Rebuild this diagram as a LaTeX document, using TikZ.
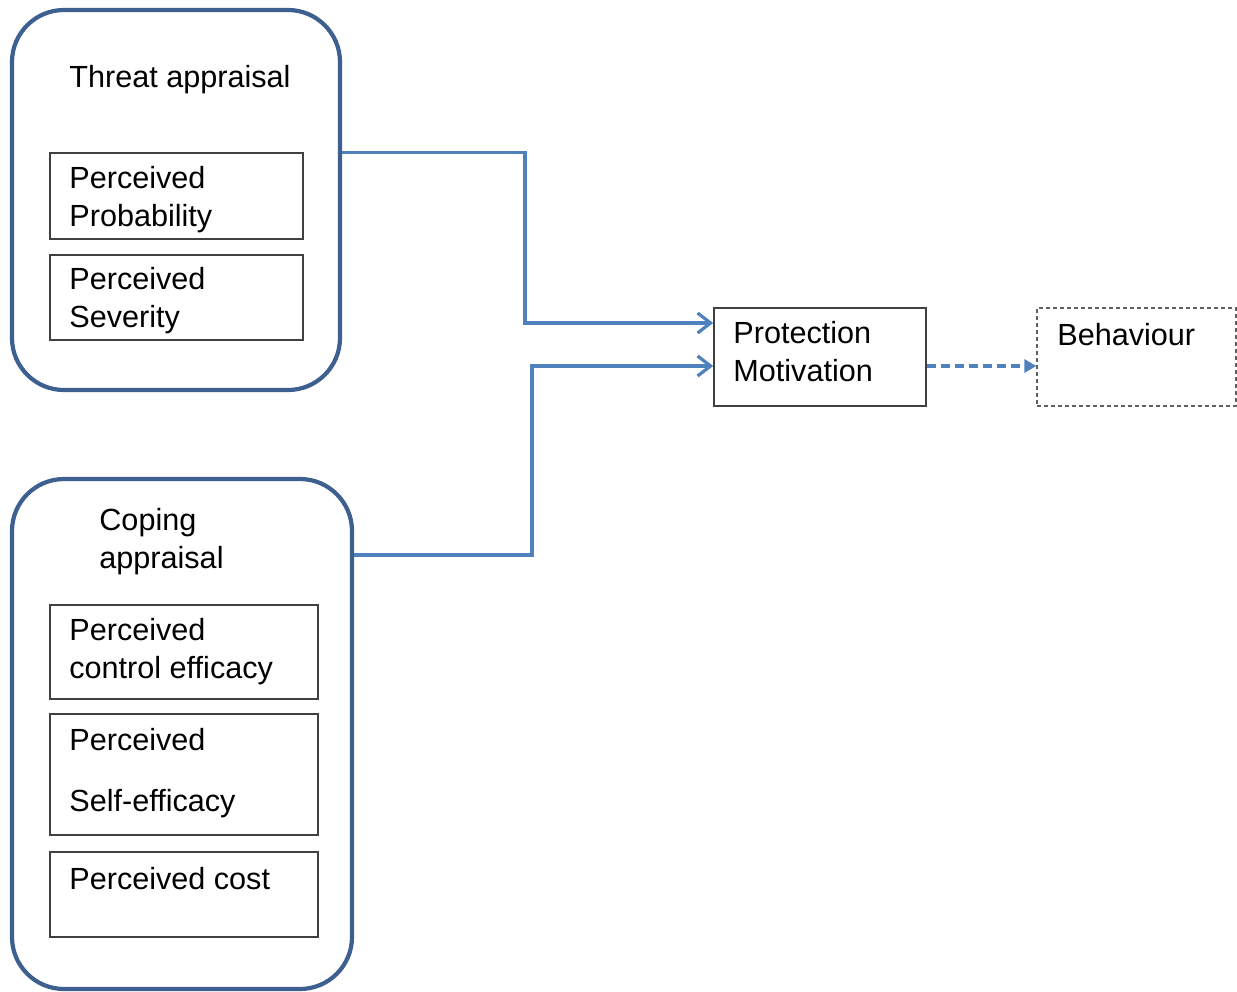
\documentclass[tikz,border=0pt]{standalone}
\usepackage{fontspec}
\setmainfont{Liberation Sans}
\usetikzlibrary{arrows.meta,fit,calc}
\definecolor{outerblue}{HTML}{3E6091}
\definecolor{connblue}{HTML}{4F81BD}
\definecolor{boxgray}{HTML}{404040}
\definecolor{dashgray}{HTML}{606060}
\begin{document}
\begin{tikzpicture}[x=0.5pt,y=-0.5pt,
  outerbox/.style={draw=outerblue,line width=2.1pt,rounded corners=26pt,inner sep=0pt},
  innerbox/.style={draw=boxgray,line width=0.8pt,inner sep=0pt},
  dashbox/.style={draw=dashgray,line width=0.6pt,dash pattern=on 2pt off 1.5pt,inner sep=0pt},
  txt/.style={anchor=north west,inner sep=0pt,align=left,font=\fontsize{15.3}{19}\selectfont},
  conn/.style={draw=connblue,line width=1.6pt,-{Straight Barb[length=6.5pt,width=10pt,line width=1.6pt]}},
  dconn/.style={draw=connblue,line width=1.8pt,dash pattern=on 4.5pt off 2.5pt,-{Triangle[length=6pt,width=6.5pt]}}
]
\useasboundingbox (0,0) rectangle (1237,991);
% threat appraisal group
\node[outerbox,fit={(12,10)(340,390)}] (threat) {};
\node[txt] (tthreat) at (69,65) {Threat appraisal};
\node[innerbox,fit={(50,153)(303,239)}] (prob) {};
\node[txt] (tprob) at (69,166) {Perceived\\Probability};
\node[innerbox,fit={(50,255)(303,340)}] (sev) {};
\node[txt] (tsev) at (69,267) {Perceived\\Severity};
% coping appraisal group
\node[outerbox,fit={(12,479)(352,989)}] (coping) {};
\node[txt] (tcoping) at (99,508) {Coping\\appraisal};
\node[innerbox,fit={(50,605)(318,699)}] (ctrl) {};
\node[txt] (tctrl) at (69,618) {Perceived\\control efficacy};
\node[innerbox,fit={(50,714)(318,835)}] (self) {};
\node[txt] (tself) at (69,728) {Perceived\\[11.5pt]Self-efficacy};
\node[innerbox,fit={(50,852)(318,937)}] (cost) {};
\node[txt] (tcost) at (69,867) {Perceived cost};
% protection motivation and behaviour
\node[innerbox,fit={(714,308)(926,406)}] (pm) {};
\node[txt] (tpm) at (733,321) {Protection\\Motivation};
\node[dashbox,fit={(1037,308)(1236,406)}] (beh) {};
\node[txt] (tbeh) at (1057,323) {Behaviour};
% connectors
\coordinate (j1) at (525,323);
\coordinate (j2) at (532,366);
\coordinate (s2) at (352,555);
\draw[conn] (threat.east |- prob.north) -| (j1) -- (pm.west |- j1);
\draw[conn] (coping.east |- s2) -| (j2) -- (pm.west |- j2);
\draw[dconn] (pm.east |- j2) -- (beh.west |- j2);
\end{tikzpicture}
\end{document}
